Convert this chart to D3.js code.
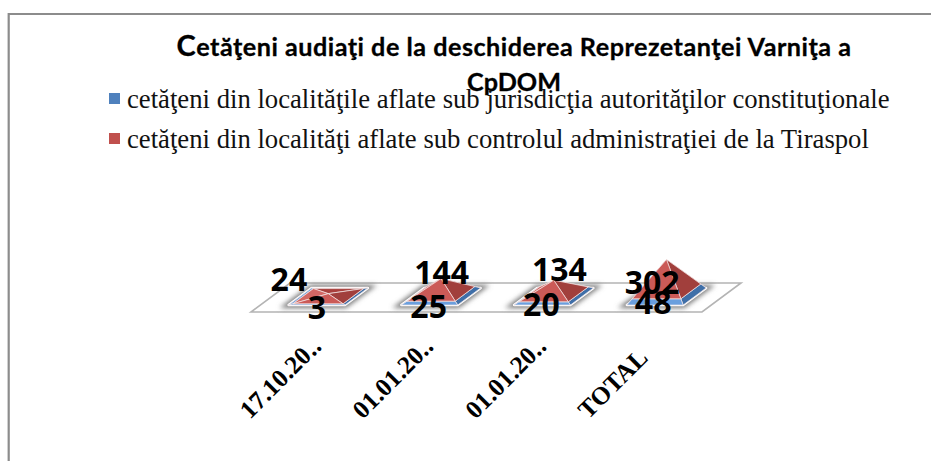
<!DOCTYPE html>
<html>
<head>
<meta charset="utf-8">
<script src="https://d3js.org/d3.v7.min.js"></script>
<style>
  html, body { margin: 0; background: #fff; }
  svg { display: block; }
</style>
</head>
<body>
<svg width="931" height="461"></svg>
<script>
var categories = ["17.10.20‥", "01.01.20‥", "01.01.20‥", "TOTAL"];
var constitutional = [3, 25, 20, 48];
var tiraspol = [24, 144, 134, 302];
var seriesNames = [
  "cetăţeni din localităţile aflate sub jurisdicţia autorităţilor constituţionale",
  "cetăţeni din localităţi aflate sub controlul administraţiei de la Tiraspol"
];

var svg = d3.select("svg");

// frame: only top and left edges are in the picture
svg.append("path").attr("d", "M931,14H8.7V461").attr("fill", "none").attr("stroke", "#8c8c8c").attr("stroke-width", 2.2);

// title
var title = svg.append("text").attr("x", 514).attr("y", 56).attr("text-anchor", "middle")
  .attr("font-family", "Lato").attr("font-weight", 700).attr("font-size", 25.2)
  .attr("letter-spacing", 0.5).attr("stroke", "#000").attr("stroke-width", 0.3).attr("fill", "#000");
title.append("tspan").attr("font-size", 29).text("C");
title.append("tspan").text("etăţeni audiaţi de la deschiderea Reprezetanţei Varniţa a");
svg.append("text").attr("x", 514).attr("y", 91).attr("text-anchor", "middle")
  .attr("font-family", "Lato").attr("font-weight", 700).attr("font-size", 25.2)
  .attr("stroke", "#000").attr("stroke-width", 0.3).text("CpDOM");

// legend
var legendColors = d3.scaleOrdinal().domain(seriesNames).range(["#4f81bd", "#c0504d"]);
var legendY = d3.scalePoint().domain(seriesNames).range([108, 148]);
var legend = svg.selectAll(".legend").data(seriesNames).enter().append("g").attr("class", "legend");
legend.append("rect").attr("x", 109).attr("y", function (d) { return legendY(d) - 15; })
  .attr("width", 11).attr("height", 11).attr("fill", function (d) { return legendColors(d); });
legend.append("text").attr("x", 127).attr("y", function (d) { return legendY(d); })
  .attr("font-family", "'Liberation Serif'").attr("font-size", 26.7).attr("fill", "#111")
  .text(function (d) { return d; });

// floor geometry and oblique projection
var floor = { left: 251, right: 702, front: 312, depth: 29, skew: 39 };
var totals = categories.map(function (c, i) { return constitutional[i] + tiraspol[i]; });

var x = d3.scaleBand().domain(d3.range(categories.length))
  .range([floor.left, floor.right]).paddingInner(0.5).paddingOuter(0.25);
var h = d3.scaleLinear().domain([0, d3.max(totals)]).range([0, 37]);
var depth = d3.scaleLinear().domain([0, 1]).range([0, floor.depth]);

// u in floor pixels, v 0-1 across the floor depth, height in data units
function project(u, v, value) {
  return [u + v * floor.skew, floor.front - depth(v) - h(value)];
}
function poly(points) {
  return "M" + points.map(function (p) { return p.join(","); }).join("L") + "Z";
}

var defs = svg.append("defs");
defs.append("filter").attr("id", "blur").attr("x", "-30%").attr("y", "-60%").attr("width", "160%").attr("height", "220%")
  .append("feGaussianBlur").attr("stdDeviation", 2.4);

svg.append("path")
  .attr("d", poly([project(floor.left, 0, 0), project(floor.right, 0, 0), project(floor.right, 1, 0), project(floor.left, 1, 0)]))
  .attr("fill", "#fff").attr("stroke", "#b4b4b4").attr("stroke-width", 1.6);

var v0 = 0.24, v1 = 0.83;

// one square ring of a pyramid at a level: shrink towards the centre as the value rises
function ring(i, value) {
  var t = 1 - value / totals[i];
  var cu = x(i) + x.bandwidth() / 2, cv = (v0 + v1) / 2;
  var hu = x.bandwidth() / 2 * t, hv = (v1 - v0) / 2 * t;
  return {
    lf: project(cu - hu, cv - hv, value),
    rf: project(cu + hu, cv - hv, value),
    rb: project(cu + hu, cv + hv, value),
    lb: project(cu - hu, cv + hv, value)
  };
}

var faceColors = {
  blue: { back: "#4a7ebb", left: "#6fa1dc", right: "#3f6fa8", front: "#6a9fde" },
  red: { back: "#a83f3c", left: "#d26764", right: "#a13f3c", front: "#cb5a57" }
};

function drawSection(g, i, a, b, colors) {
  var p = ring(i, a), q = ring(i, b);
  var faces = [
    ["back", [p.lb, p.rb, q.rb, q.lb]],
    ["left", [p.lf, p.lb, q.lb, q.lf]],
    ["right", [p.rf, p.rb, q.rb, q.rf]],
    ["front", [p.lf, p.rf, q.rf, q.lf]]
  ];
  faces.forEach(function (f) {
    g.append("path").attr("d", poly(f[1])).attr("fill", colors[f[0]])
      .attr("stroke", "#f4e6e6").attr("stroke-width", 0.7).attr("stroke-linejoin", "round");
  });
}

categories.forEach(function (c, i) {
  var g = svg.append("g");
  var base = ring(i, 0);
  g.append("path").attr("d", poly([base.lf, base.rf, base.rb, base.lb]))
    .attr("fill", "#777").attr("stroke", "#777").attr("stroke-width", 6).attr("filter", "url(#blur)");
  g.append("path").attr("d", poly([base.lf, base.rf, base.rb, base.lb]))
    .attr("fill", "#fff").attr("stroke", "#fff").attr("stroke-width", 2.4).attr("stroke-linejoin", "round");
  drawSection(g, i, 0, constitutional[i], faceColors.blue);
  drawSection(g, i, constitutional[i], totals[i], faceColors.red);
});

// data labels, nudged one by one the way the original layout left them
var blueNudge = [[-10, 2], [-11, 1], [-11, -1], [-12, -3]];
var redNudge = [[-38, -16.6], [2, -8.6], [7, -13], [-13, 20.5]];

function labels(values, nudge, ground) {
  svg.selectAll(null).data(values).enter().append("text")
    .attr("x", function (d, i) { return x(i) + x.bandwidth() / 2 + 0.5 * floor.skew + nudge[i][0]; })
    .attr("y", function (d, i) { return ground(d, i) + nudge[i][1]; })
    .attr("text-anchor", "middle").attr("dominant-baseline", "central")
    .attr("font-family", "'Open Sans'").attr("font-weight", 700).attr("font-size", 32).attr("fill", "#000")
    .text(function (d) { return d; });
}
labels(constitutional, blueNudge, function () { return floor.front - 8; });
labels(tiraspol, redNudge, function (d, i) { return project(0, 0.5, totals[i])[1]; });

// category axis: rotated labels that start under each band
var axisX = d3.scaleBand().domain(d3.range(categories.length)).range([floor.left, floor.right]);
svg.selectAll(".cat").data(categories).enter().append("text").attr("class", "cat")
  .attr("transform", function (d, i) { return "translate(" + (axisX(i) - 1) + ",420) rotate(-45)"; })
  .attr("font-family", "'Liberation Serif'").attr("font-weight", 700).attr("font-size", 25.3).attr("fill", "#000")
  .text(function (d) { return d; });
</script>
</body>
</html>
